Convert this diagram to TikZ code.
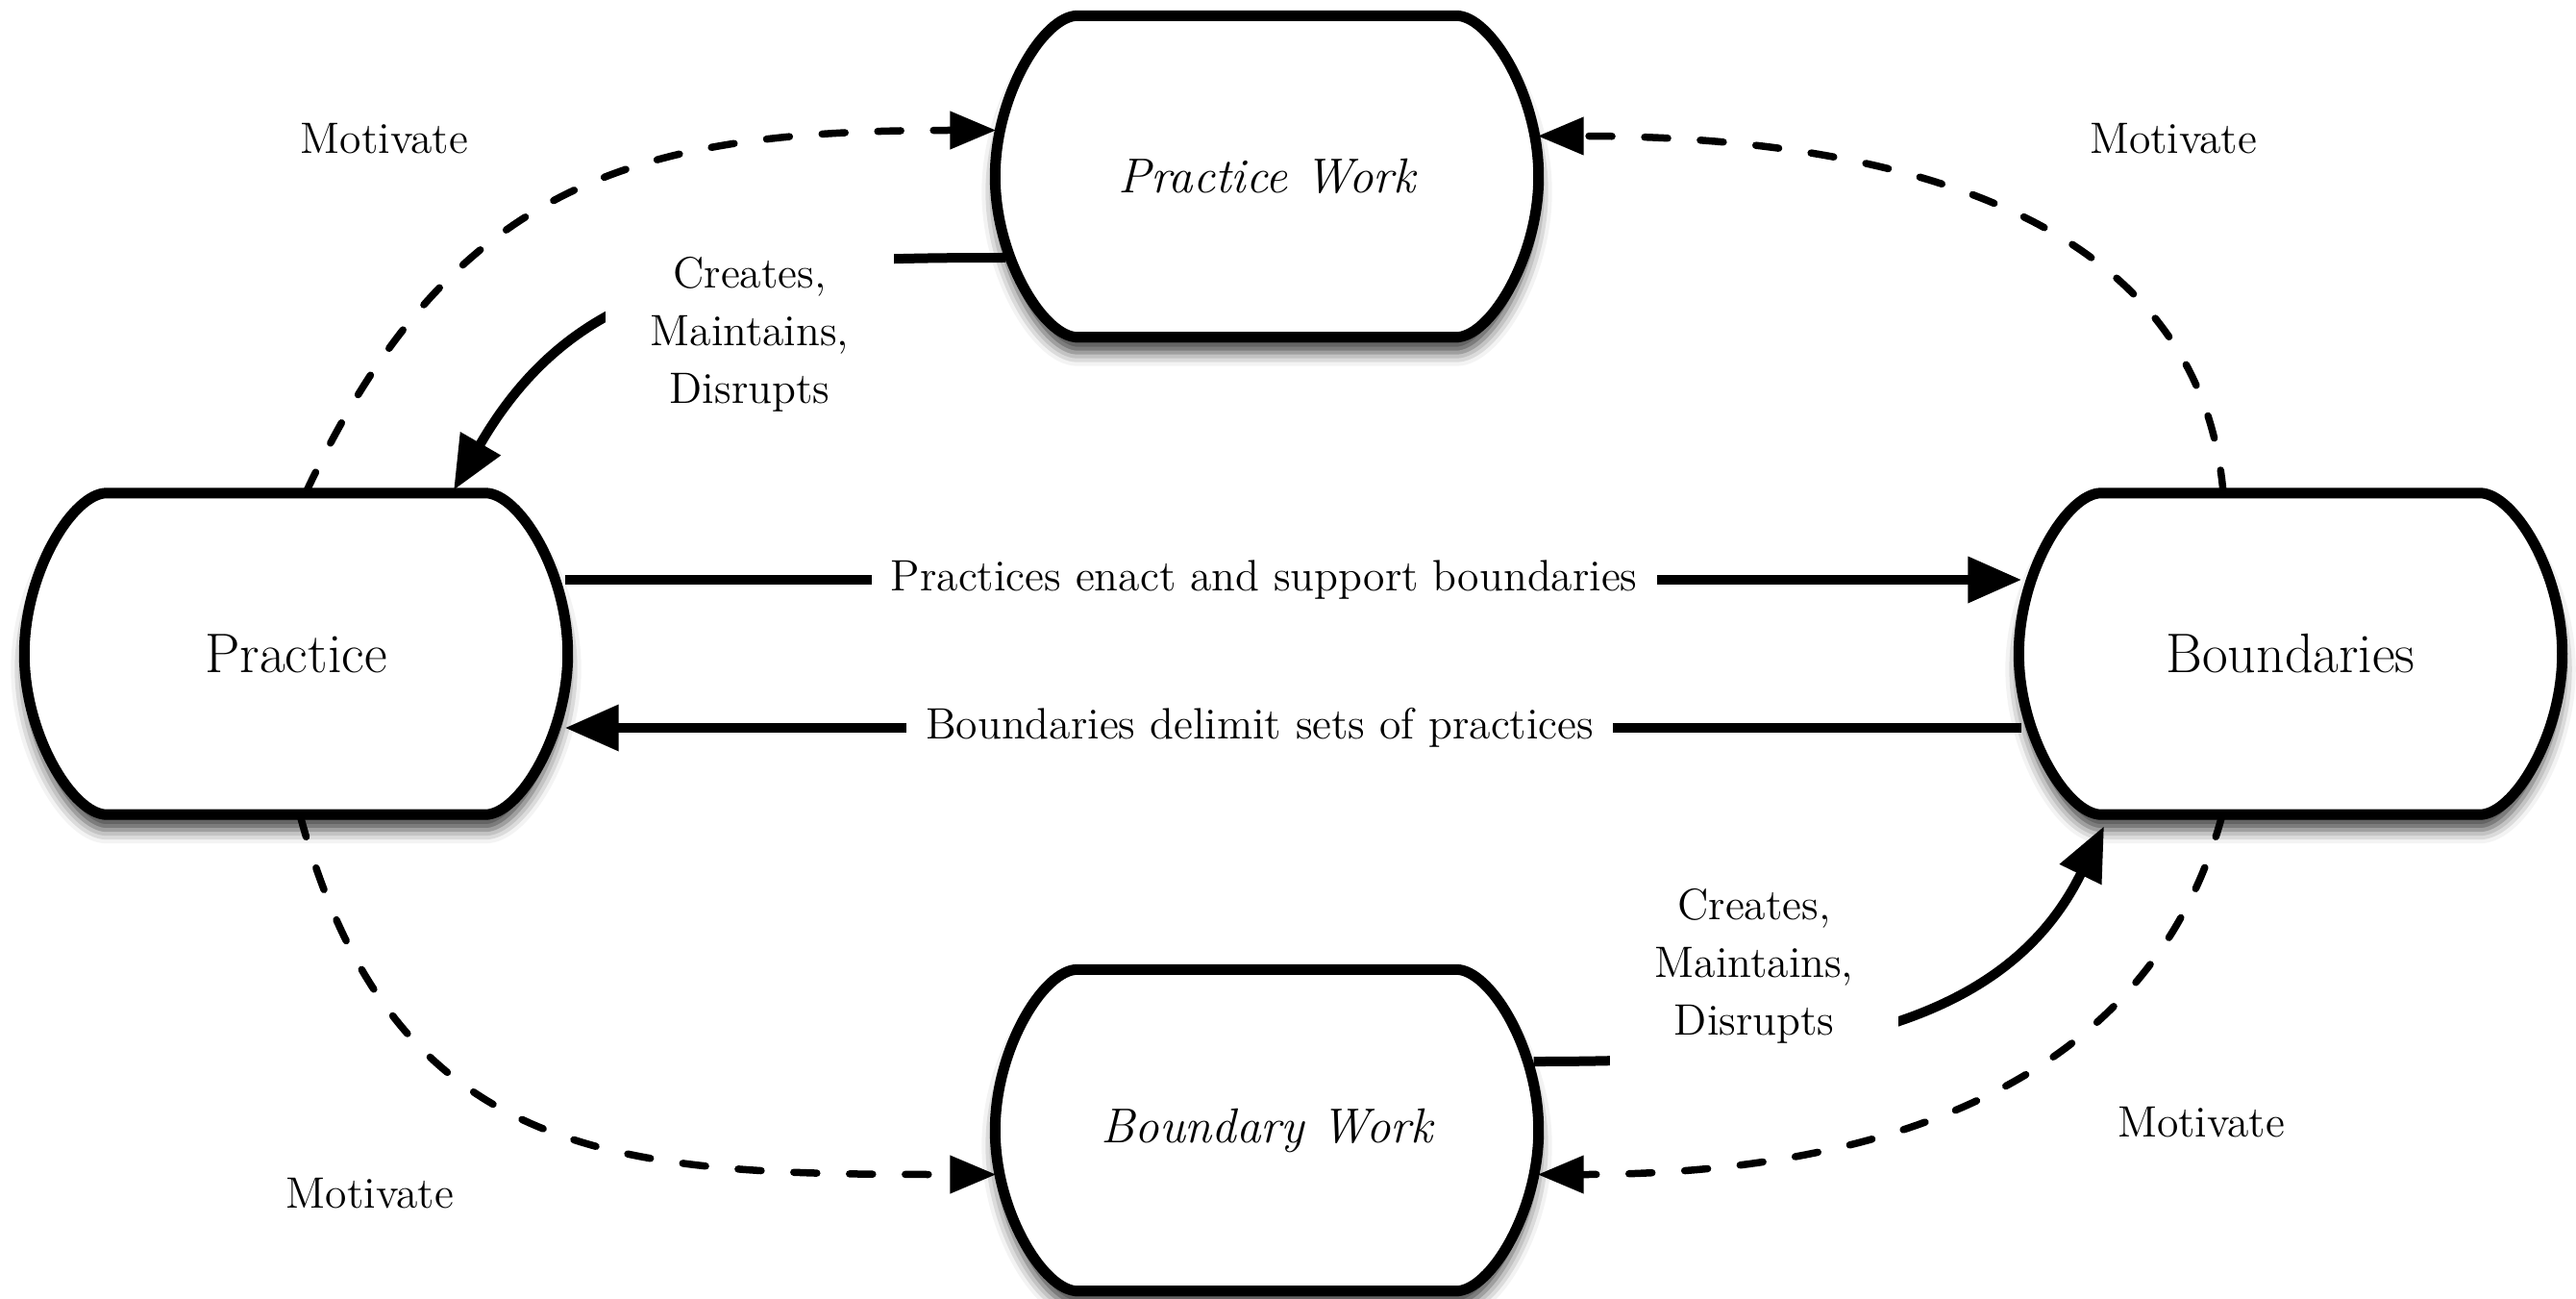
\documentclass[tikz,border=0pt]{standalone}
\usepackage{tikz}
\usetikzlibrary{arrows.meta}
\usetikzlibrary{backgrounds}
\usetikzlibrary{calc}
\usetikzlibrary{shadows.blur}

\begin{document}
\begin{tikzpicture}
\tikzset{Barrel/.style={
  draw=none,
  rectangle,
  align=center,
  minimum width=5.64cm,
  minimum height=3.33cm,
  font=\fontsize{16.5}{20}\selectfont,
}}
\tikzset{WorkBarrel/.style={
  Barrel,
  font=\fontsize{14.5}{18}\selectfont\itshape,
}}
\tikzset{BarrelLine/.style={
  draw=black,
  fill=white,
  line width=0.11cm,
  line join=round,
  blur shadow={shadow xshift=0cm, shadow yshift=-0.16cm,
               shadow blur radius=0.14cm, shadow opacity=75},
}}
\tikzset{Relation/.style={
  draw=black,
  line width=0.1cm,
  -{Triangle[length=0.56cm,width=0.46cm]},
}}
\tikzset{Motivates/.style={
  draw=black,
  line width=0.075cm,
  line cap=round,
  dash pattern=on 0.24cm off 0.34cm,
  -{Triangle[length=0.48cm,width=0.38cm]},
}}
\tikzset{RelLabel/.style={
  fill=white,
  inner xsep=0.2cm,
  font=\fontsize{13}{17}\selectfont,
}}
\tikzset{EffectLabel/.style={
  fill=white,
  align=center,
  minimum width=3.0cm,
  minimum height=2.2cm,
  font=\fontsize{13}{17}\selectfont,
}}
\tikzset{FreeLabel/.style={
  font=\fontsize{13}{17}\selectfont,
}}

\useasboundingbox (0,0) rectangle (26.8,13.5);

\node[Barrel] (practice) at (3.08,6.70) {Practice};
\node[Barrel] (boundaries) at (23.83,6.70) {Boundaries};
\node[WorkBarrel] (pwork) at (13.18,11.665) {Practice Work};
\node[WorkBarrel] (bwork) at (13.18,1.745) {Boundary Work};

\begin{scope}[on background layer]
\foreach \n in {practice,boundaries,pwork,bwork}{
  \draw[BarrelLine] ($(\n.north)+(-1.97,0)$) -- ($(\n.north)+(1.97,0)$)
    .. controls +(0.35,0) and +(0,0.85) .. (\n.east)
    .. controls +(0,-0.85) and +(0.35,0) .. ($(\n.south)+(1.97,0)$)
    -- ($(\n.south)+(-1.97,0)$)
    .. controls +(-0.35,0) and +(0,-0.85) .. (\n.west)
    .. controls +(0,0.85) and +(-0.35,0) .. cycle;
}
\end{scope}

\draw[Relation] ($(practice.east)+(-0.03,0.77)$)
  -- node[RelLabel, pos=0.48] (enact) {Practices enact and support boundaries}
  ($(boundaries.west)+(0.03,0.77)$);
\draw[Relation] ($(boundaries.west)+(0.03,-0.77)$)
  -- node[RelLabel, pos=0.523] (delimit) {Boundaries delimit sets of practices}
  ($(practice.east)+(-0.03,-0.77)$);

\draw[Relation] ($(pwork.west)+(0.11,-0.845)$) to[out=180,in=60,looseness=1.1] ($(practice.north)+(1.64,0.03)$);
\node[EffectLabel] (pcreates) at (7.80,10.02) {Creates,\\Maintains,\\Disrupts};
\draw[Relation] ($(bwork.east)+(-0.05,0.715)$) to[out=0,in=-116] ($(boundaries.south)+(-1.94,-0.12)$);
\node[EffectLabel] (bcreates) at (18.25,3.45) {Creates,\\Maintains,\\Disrupts};

\draw[Motivates] ($(practice.north)+(0.1,0)$) to[out=65,in=180,looseness=1.15] ($(pwork.west)+(0.01,0.48)$);
\draw[Motivates] ($(boundaries.north)+(-0.7,0)$) to[out=95,in=0] ($(pwork.east)+(-0.01,0.42)$);
\draw[Motivates] ($(practice.south)+(0.04,0)$) to[out=-75,in=180,looseness=1.2] ($(bwork.west)+(0.01,-0.46)$);
\draw[Motivates] ($(boundaries.south)+(-0.71,0)$) to[out=-105,in=0] ($(bwork.east)+(-0.01,-0.46)$);

\node[FreeLabel] (motivatePW) at (4.00,12.06) {Motivate};
\node[FreeLabel] (motivatePWr) at (22.61,12.06) {Motivate};
\node[FreeLabel] (motivateBW) at (3.85,1.09) {Motivate};
\node[FreeLabel] (motivateBWr) at (22.90,1.83) {Motivate};
\end{tikzpicture}
\end{document}
